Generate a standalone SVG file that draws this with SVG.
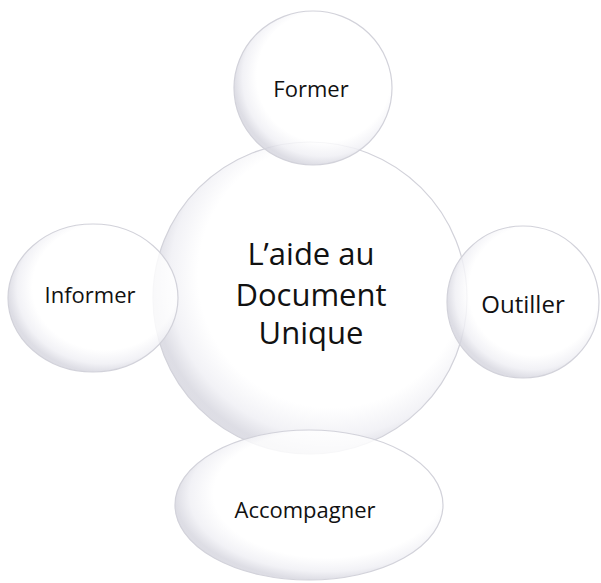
<svg xmlns="http://www.w3.org/2000/svg" width="601" height="583" viewBox="0 0 601 583">
  <defs>
    <radialGradient id="bub" cx="0.56" cy="0.44" r="0.56" fx="0.6" fy="0.38">
      <stop offset="0" stop-color="#ffffff"/>
      <stop offset="0.76" stop-color="#ffffff"/>
      <stop offset="0.91" stop-color="#efeff4"/>
      <stop offset="1" stop-color="#d6d6df"/>
    </radialGradient>
  </defs>
  <style>
    .b { fill: url(#bub); stroke: #d2d2da; stroke-width: 1.2; fill-opacity: 0.82; }
    .t { font-family: "Open Sans", "Noto Sans", sans-serif; fill: #111111; text-anchor: middle; }
  </style>
  <rect width="601" height="583" fill="#ffffff"/>
  <g id="connectors"/>
  <g id="center">
    <ellipse class="b" cx="310" cy="298" rx="157" ry="156"/>
    <text class="t" font-size="31"><tspan x="311" y="265">L’aide au</tspan><tspan x="311" y="306">Document</tspan><tspan x="311" y="344">Unique</tspan></text>
  </g>
  <g id="former">
    <ellipse class="b" cx="313" cy="88" rx="79" ry="77"/>
    <text class="t" x="311" y="97" font-size="22">Former</text>
  </g>
  <g id="informer">
    <ellipse class="b" cx="93" cy="298" rx="85" ry="74"/>
    <text class="t" x="90" y="303" font-size="22">Informer</text>
  </g>
  <g id="outiller">
    <ellipse class="b" cx="523" cy="302" rx="76" ry="76"/>
    <text class="t" x="523" y="313" font-size="24">Outiller</text>
  </g>
  <g id="accompagner">
    <ellipse class="b" cx="309" cy="505" rx="134" ry="75"/>
    <text class="t" x="305" y="518" font-size="22">Accompagner</text>
  </g>
</svg>
